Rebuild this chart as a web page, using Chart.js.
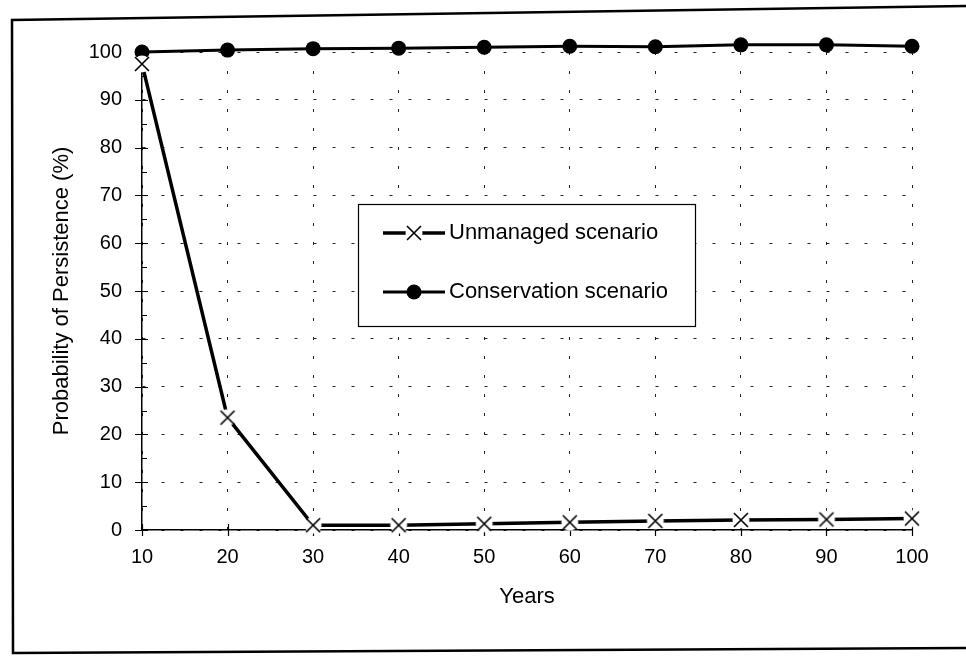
<!DOCTYPE html>
<html><head><meta charset="utf-8">
<script src="https://cdn.jsdelivr.net/npm/chart.js@4.4.1/dist/chart.umd.min.js"></script>
<style>html,body{margin:0;padding:0;background:#fff}canvas{display:block}</style>
</head><body>
<canvas id="c" width="966" height="656"></canvas>
<script>
// ---- data ----
const years = ['10','20','30','40','50','60','70','80','90','100'];
const unmanaged = [97.5, 23.5, 1, 1, 1.3, 1.6, 1.9, 2.1, 2.2, 2.4];
const conservation = [100, 100.4, 100.7, 100.8, 101, 101.2, 101.1, 101.5, 101.5, 101.2];
const seriesNames = ['Unmanaged scenario', 'Conservation scenario'];
const yTickLabels = [0, 10, 20, 30, 40, 50, 60, 70, 80, 90, 100];
const xTitle = 'Years';
const yTitle = 'Probability of Persistence (%)';

const FONT = '"Liberation Sans", Arial, sans-serif';

// X marker with white halo (line gaps around the cross, as in the original)
function makeCross() {
  const c = document.createElement('canvas');
  c.width = 22; c.height = 22;
  const g = c.getContext('2d');
  g.fillStyle = '#fff';
  g.beginPath(); g.arc(11, 11, 8.5, 0, Math.PI * 2); g.fill();
  g.strokeStyle = '#000'; g.lineWidth = 1.6;
  g.beginPath();
  g.moveTo(4, 4); g.lineTo(18, 18);
  g.moveTo(18, 4); g.lineTo(4, 18);
  g.stroke();
  return c;
}
const crossImg = makeCross();

const framePlugin = {
  id: 'frame',
  beforeDraw(chart) {
    const ctx = chart.ctx;
    ctx.save();
    ctx.fillStyle = '#fff';
    ctx.fillRect(0, 0, chart.width, chart.height);
    ctx.strokeStyle = '#000';
    ctx.lineWidth = 2.5;
    ctx.beginPath();
    ctx.moveTo(966, 6); ctx.lineTo(12, 20); ctx.lineTo(13, 653); ctx.lineTo(966, 648);
    ctx.stroke();
    ctx.restore();
  }
};

const tickPlugin = {
  id: 'tickmarks',
  beforeDatasetsDraw(chart) {
    const ctx = chart.ctx, xs = chart.scales.x, ys = chart.scales.y;
    const ax = chart.chartArea.left, ay = chart.chartArea.bottom;
    ctx.save();
    ctx.strokeStyle = '#000';
    ctx.lineWidth = 1.2;
    ctx.beginPath();
    for (let v = 0; v <= 100; v += 5) {
      const y = Math.round(ys.getPixelForValue(v)) + 0.5;
      if (yTickLabels.includes(v)) { ctx.moveTo(ax - 7, y); ctx.lineTo(ax + 6, y); }
      else { ctx.moveTo(ax, y); ctx.lineTo(ax + 5, y); }
    }
    years.forEach((_, i) => {
      const x = Math.round(xs.getPixelForValue(i)) + 0.5;
      ctx.moveTo(x, ay - 6); ctx.lineTo(x, ay + 6);
    });
    ctx.stroke();
    ctx.restore();
  }
};

const legendPlugin = {
  id: 'boxLegend',
  afterDraw(chart) {
    const ctx = chart.ctx;
    ctx.save();
    ctx.fillStyle = '#fff';
    ctx.fillRect(358, 204, 337, 122);
    ctx.strokeStyle = '#000';
    ctx.lineWidth = 1.2;
    ctx.strokeRect(358.5, 204.5, 337, 122);
    const rows = [233, 292];
    chart.data.datasets.forEach((ds, i) => {
      const y = rows[i];
      ctx.strokeStyle = '#000';
      ctx.lineWidth = ds.borderWidth;
      ctx.beginPath(); ctx.moveTo(383, y); ctx.lineTo(445, y); ctx.stroke();
      if (i === 0) {
        ctx.drawImage(crossImg, 414 - 11, y - 11);
      } else {
        ctx.fillStyle = '#000';
        ctx.beginPath(); ctx.arc(414, y, 7.5, 0, Math.PI * 2); ctx.fill();
      }
      ctx.fillStyle = '#000';
      ctx.font = '22px ' + FONT;
      ctx.textBaseline = 'middle';
      ctx.textAlign = 'left';
      ctx.fillText(ds.label, 449, y);
    });
    ctx.restore();
  }
};

new Chart(document.getElementById('c'), {
  type: 'line',
  data: {
    labels: years,
    datasets: [
      {
        label: seriesNames[0], data: unmanaged,
        borderColor: '#000', backgroundColor: '#000', borderWidth: 3.5,
        pointStyle: crossImg, pointRadius: 8, tension: 0, clip: false
      },
      {
        label: seriesNames[1], data: conservation,
        borderColor: '#000', backgroundColor: '#000', borderWidth: 3,
        pointStyle: 'circle', pointRadius: 7.5, pointBorderWidth: 0,
        pointBackgroundColor: '#000', tension: 0, clip: false
      }
    ]
  },
  options: {
    responsive: false,
    animation: false,
    events: [],
    layout: { padding: { top: 52, right: 54, bottom: 0, left: 0 } },
    plugins: { legend: { display: false }, tooltip: { enabled: false } },
    scales: {
      x: {
        type: 'category',
        offset: false,
        afterFit(s) { s.height = 126; },
        grid: { display: true, color: '#222', lineWidth: 1, drawTicks: false, drawOnChartArea: true },
        border: { display: true, color: '#000', width: 1.5, dash: [3, 16] },
        ticks: { color: '#000', font: { family: FONT, size: 20 }, padding: 15, maxRotation: 0, autoSkip: false },
        title: { display: true, text: xTitle, color: '#000', font: { family: FONT, size: 22 }, padding: { top: 0, bottom: 46 } }
      },
      y: {
        min: 0, max: 100,
        afterFit(s) { s.width = 142; },
        grid: { display: true, color: '#222', lineWidth: 1, drawTicks: false },
        border: { display: true, color: '#000', width: 1.5, dash: [3, 16] },
        ticks: {
          stepSize: 5, color: '#000', font: { family: FONT, size: 20 }, padding: 20,
          callback: v => (yTickLabels.includes(v) ? String(v) : '')
        },
        title: { display: true, text: yTitle, color: '#000', font: { family: FONT, size: 22 }, padding: { top: 49, bottom: 0 } }
      }
    }
  },
  plugins: [framePlugin, tickPlugin, legendPlugin]
});
</script>
</body></html>
